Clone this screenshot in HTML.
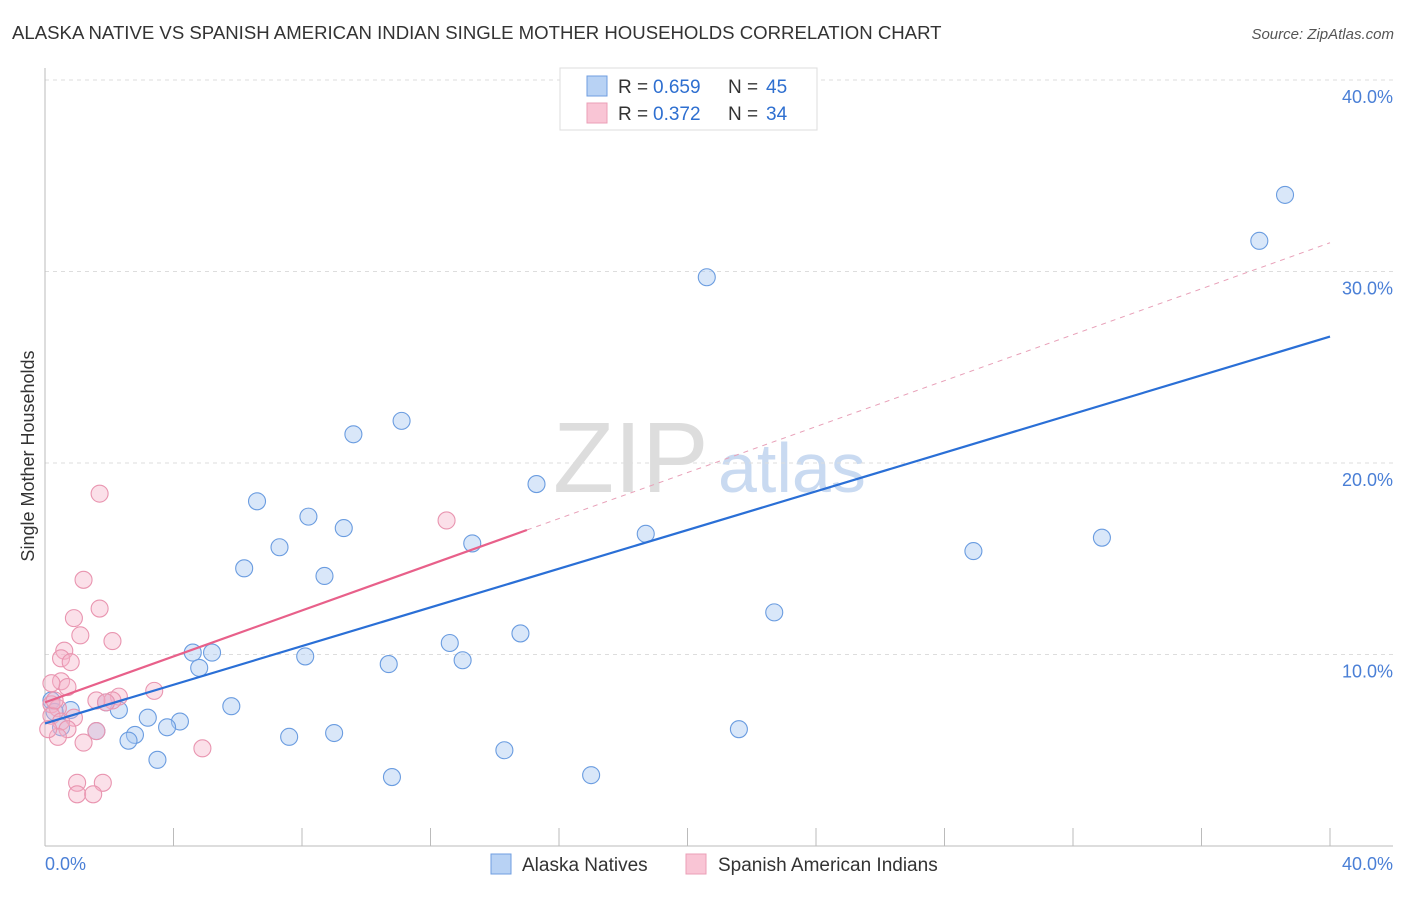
<!DOCTYPE html>
<html><head><meta charset="utf-8"><style>
body{margin:0;background:#fff;font-family:"Liberation Sans",sans-serif}
svg text{font-family:"Liberation Sans",sans-serif}
</style></head><body>
<svg width="1406" height="892">
<text x="12" y="39" font-size="18.6" fill="#333">ALASKA NATIVE VS SPANISH AMERICAN INDIAN SINGLE MOTHER HOUSEHOLDS CORRELATION CHART</text>
<text x="1394" y="39" font-size="15" fill="#555" font-style="italic" text-anchor="end">Source: ZipAtlas.com</text>
<text x="553" y="492" font-size="100" fill="#ddd" font-family="Liberation Serif">ZIP</text>
<text x="718" y="492" font-size="70" fill="#c9daf1">atlas</text>
<g id="grid"></g>
<g id="axes"></g>
<g id="pts"></g>
<g id="lines"></g>
<text transform="translate(34,456) rotate(-90)" font-size="18" fill="#333" text-anchor="middle">Single Mother Households</text>
<text x="45" y="870" font-size="18" fill="#4a7fd6">0.0%</text>
<text x="1393" y="870" font-size="18" fill="#4a7fd6" text-anchor="end">40.0%</text>
<g>
<rect x="560" y="68" width="257" height="62" fill="#fff" stroke="#ddd"/>
<rect x="587" y="76" width="20" height="20" fill="#b8d2f4" stroke="#6f9ee0"/>
<rect x="587" y="103" width="20" height="20" fill="#f9c5d5" stroke="#eb9fb7"/>
<text x="618" y="93" font-size="19" fill="#333">R =</text>
<text x="653" y="93" font-size="19" fill="#2e6fd0">0.659</text>
<text x="728" y="93" font-size="19" fill="#333">N =</text>
<text x="766" y="93" font-size="19" fill="#2e6fd0">45</text>
<text x="618" y="120" font-size="19" fill="#333">R =</text>
<text x="653" y="120" font-size="19" fill="#2e6fd0">0.372</text>
<text x="728" y="120" font-size="19" fill="#333">N =</text>
<text x="766" y="120" font-size="19" fill="#2e6fd0">34</text>
</g>
<g>
<rect x="491" y="854" width="20" height="20" fill="#b8d2f4" stroke="#6f9ee0"/>
<text x="522" y="871" font-size="19" fill="#333">Alaska Natives</text>
<rect x="686" y="854" width="20" height="20" fill="#f9c5d5" stroke="#eb9fb7"/>
<text x="718" y="871" font-size="19" fill="#333">Spanish American Indians</text>
</g>
</svg>
<script>
const yTicks=[10,20,30,40];
const yTickLabels=["10.0%","20.0%","30.0%","40.0%"];
const xTicks=[4,8,12,16,20,24,28,32,36,40];
const blueX=[38.6,37.8,20.6,11.1,9.6,15.3,6.6,8.2,9.3,13.3,18.7,32.9,28.9,7.3,6.2,8.7,22.7,14.8,12.6,4.6,5.2,4.8,8.1,13.0,10.7,5.8,2.3,0.8,1.9,3.2,4.2,3.8,2.8,2.6,1.6,7.6,9.0,21.6,0.5,0.2,3.5,14.3,10.8,17.0,0.3];
const blueY=[34.0,31.6,29.7,22.2,21.5,18.9,18.0,17.2,16.6,15.8,16.3,16.1,15.4,15.6,14.5,14.1,12.2,11.1,10.6,10.1,10.1,9.3,9.9,9.7,9.5,7.3,7.1,7.1,7.5,6.7,6.5,6.2,5.8,5.5,6.0,5.7,5.9,6.1,6.2,7.6,4.5,5.0,3.6,3.7,7.0];
const pinkX=[1.7,12.5,1.2,1.7,0.9,1.1,2.1,0.6,0.5,0.8,0.5,0.7,0.2,3.4,2.3,2.1,1.6,1.9,0.2,0.4,0.2,0.9,0.5,0.7,0.4,1.2,1.6,4.9,1.0,1.8,1.0,1.5,0.3,0.1];
const pinkY=[18.4,17.0,13.9,12.4,11.9,11.0,10.7,10.2,9.8,9.6,8.6,8.3,8.5,8.1,7.8,7.6,7.6,7.5,7.4,7.2,6.8,6.7,6.5,6.1,5.7,5.4,6.0,5.1,3.3,3.3,2.7,2.7,7.6,6.1];
const blueTrend=[6.4,26.6];
const pinkTrend=[7.5,31.5];
const pinkSolidEnd=15;
const NS="http://www.w3.org/2000/svg";
const sx=v=>45+v/40*1285, sy=v=>846-v*19.15;
function mk(tag,attrs,parent){const e=document.createElementNS(NS,tag);for(const k in attrs)e.setAttribute(k,attrs[k]);document.getElementById(parent).appendChild(e);return e;}
yTicks.forEach((t,i)=>{
 const g=mk('line',{x1:45,x2:1393,y1:sy(t),y2:sy(t),stroke:'#ddd','stroke-dasharray':'4,4'},'grid');
 
 
 const tx=mk('text',{x:1393,y:sy(t)+23,'font-size':18,fill:'#4a7fd6','text-anchor':'end'},'grid');
 tx.textContent=yTickLabels[i];
 
 
});
let a=mk('line',{x1:45,x2:45,y1:68,y2:846,stroke:'#bbb'},'axes');


a=mk('line',{x1:45,x2:1393,y1:846,y2:846,stroke:'#bbb'},'axes');


xTicks.forEach(t=>{const l=mk('line',{x1:sx(t),x2:sx(t),y1:828,y2:846,stroke:'#bbb'},'axes');
 
 });
blueX.forEach((x,i)=>{const c=mk('circle',{cx:sx(x),cy:sy(blueY[i]),r:8.5,fill:'rgba(170,202,242,0.45)',stroke:'#6a9ce0','stroke-width':1.1},'pts');
 
 });
pinkX.forEach((x,i)=>{const c=mk('circle',{cx:sx(x),cy:sy(pinkY[i]),r:8.5,fill:'rgba(246,178,200,0.4)',stroke:'#e995b0','stroke-width':1.1},'pts');
 
 });
const pAt=x=>pinkTrend[0]+(pinkTrend[1]-pinkTrend[0])*x/40;
let l=mk('line',{x1:sx(pinkSolidEnd),y1:sy(pAt(pinkSolidEnd)),x2:sx(40),y2:sy(pinkTrend[1]),stroke:'#e8a0b8','stroke-dasharray':'5,5','stroke-width':1},'lines');


l=mk('line',{x1:sx(0),y1:sy(blueTrend[0]),x2:sx(40),y2:sy(blueTrend[1]),stroke:'#2a6fd6','stroke-width':2.2},'lines');


l=mk('line',{x1:sx(0),y1:sy(pinkTrend[0]),x2:sx(pinkSolidEnd),y2:sy(pAt(pinkSolidEnd)),stroke:'#e8608a','stroke-width':2.2},'lines');


</script>
</body></html>
